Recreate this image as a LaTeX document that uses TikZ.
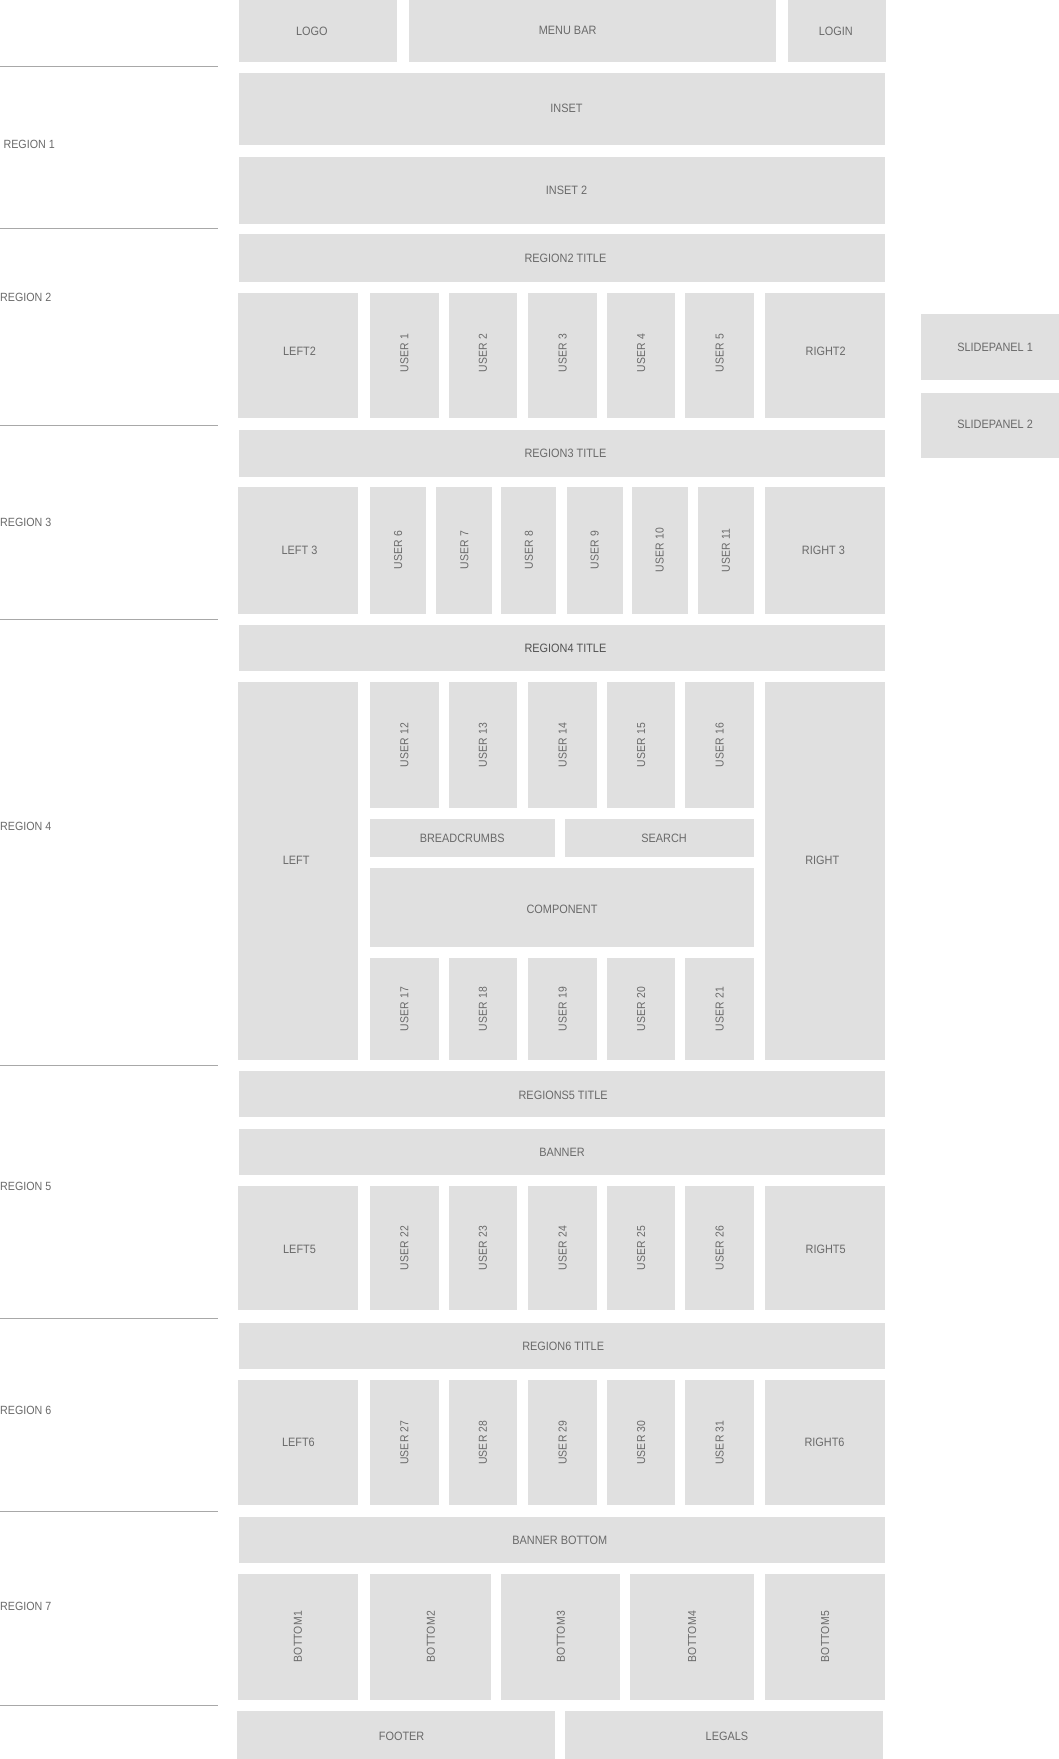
\documentclass[tikz,border=0pt]{standalone}
\usepackage{fontspec}
\usepackage{graphicx}
\setmainfont{Liberation Sans}
\newfontfamily\condf{Liberation Sans}[FakeStretch=0.9]
\definecolor{boxfill}{HTML}{E0E0E0}
\definecolor{txtc}{HTML}{6A6A6A}
\definecolor{rulec}{HTML}{A8A8A8}
\tikzset{
  box/.style={fill=boxfill, inner sep=0pt, text=txtc, font=\condf\fontsize{10.8}{12}\selectfont},
  lbl/.style={inner sep=0pt, text=txtc, font=\condf\fontsize{10.8}{12}\selectfont},
  rlabel/.style={anchor=west, inner sep=0pt, text=txtc, font=\condf\fontsize{10.6}{12}\selectfont},
  rline/.style={draw=rulec, line width=0.9pt}
}
% box with centred text
\newcommand\bx[6]{\node[box, minimum width={(#4-#2)*1pt}, minimum height={(#5-#3)*1pt}] (#1) at ({(#2+#4)/2},{(#3+#5)/2}) {#6};}
% box with text at a given point
\newcommand\bxl[8]{\bx{#1}{#2}{#3}{#4}{#5}{}\node[lbl] (#1-t) at (#6,#7) {#8};}
\newcommand\rbx[6]{\bx{#1}{#2}{#3}{#4}{#5}{\rotatebox{90}{\fontsize{10.3}{11}\selectfont\addfontfeatures{LetterSpace=2}#6}}}
\begin{document}
\begin{tikzpicture}[x=1pt,y=-1pt]
\useasboundingbox[fill=white] (0,0) rectangle (944,1568);
% region rules
\foreach \yy in {59,204,379,552,950,1175,1347,1520} {\draw[rline] (0,\yy) -- (194,\yy);}
\node[rlabel] (r1) at (3,129) {REGION 1};
\node[rlabel] (r2) at (0,265) {REGION 2};
\node[rlabel] (r3) at (0,466) {REGION 3};
\node[rlabel] (r4) at (0,737) {REGION 4};
\node[rlabel] (r5) at (0,1058) {REGION 5};
\node[rlabel] (r6) at (0,1257) {REGION 6};
\node[rlabel] (r7) at (0,1432) {REGION 7};
% header
\bxl{logo}{213}{-1}{354}{55}{278}{27.5}{LOGO}
\bxl{menu}{365}{-1}{692}{55}{506}{27.5}{MENU BAR}
\bxl{login}{702}{-1}{790}{55}{745}{27.5}{LOGIN}
\bxl{inset}{213}{65}{789}{129}{505}{96.5}{INSET}
\bxl{inset2}{213}{140}{789}{200}{505}{170}{INSET 2}
% region 2
\bxl{r2t}{213}{209}{789}{251}{504}{230.5}{REGION2 TITLE}
\bxl{left2}{212}{261}{319}{373}{267}{313.5}{LEFT2}
\rbx{u1}{330}{261}{391}{369}{USER 1}
\rbx{u2}{400}{261}{461}{369}{USER 2}
\rbx{u3}{471}{261}{532}{369}{USER 3}
\rbx{u4}{541}{261}{602}{369}{USER 4}
\rbx{u5}{611}{261}{672}{369}{USER 5}
\bx{u1b}{330}{368}{391}{373}{}
\bx{u2b}{400}{368}{461}{373}{}
\bx{u3b}{471}{368}{532}{373}{}
\bx{u4b}{541}{368}{602}{373}{}
\bx{u5b}{611}{368}{672}{373}{}
\bxl{right2}{682}{261}{789}{373}{736}{313.5}{RIGHT2}
\bxl{sp1}{821}{280}{953}{339}{887}{309.5}{SLIDEPANEL 1}
\bxl{sp2}{821}{350}{953}{408}{887}{378}{SLIDEPANEL 2}
% region 3
\bxl{r3t}{213}{383}{789}{425}{504}{404}{REGION3 TITLE}
\bxl{left3}{212}{434}{319}{547}{267}{491}{LEFT 3}
\rbx{u6}{330}{434}{380}{547}{USER 6}
\rbx{u7}{389}{434}{439}{547}{USER 7}
\rbx{u8}{447}{434}{496}{547}{USER 8}
\rbx{u9}{505}{434}{555}{547}{USER 9}
\rbx{u10}{563}{434}{613}{547}{USER 10}
\rbx{u11}{622}{434}{672}{547}{USER 11}
\bxl{right3}{682}{434}{789}{547}{734}{491}{RIGHT 3}
% region 4
\bxl{r4t}{213}{557}{789}{598}{504}{578}{\color{black!68}REGION4 TITLE}
\bxl{left4}{212}{608}{319}{945}{264}{766.5}{LEFT}
\bxl{right4}{682}{608}{789}{945}{733}{766.5}{RIGHT}
\rbx{u12}{330}{608}{391}{720}{USER 12}
\rbx{u13}{400}{608}{461}{720}{USER 13}
\rbx{u14}{471}{608}{532}{720}{USER 14}
\rbx{u15}{541}{608}{602}{720}{USER 15}
\rbx{u16}{611}{608}{672}{720}{USER 16}
\bxl{bread}{330}{730}{495}{764}{412}{747}{BREADCRUMBS}
\bxl{search}{504}{730}{672}{764}{592}{747}{SEARCH}
\bxl{comp}{330}{774}{672}{844}{501}{811}{COMPONENT}
\rbx{u17}{330}{854}{391}{945}{USER 17}
\rbx{u18}{400}{854}{461}{945}{USER 18}
\rbx{u19}{471}{854}{532}{945}{USER 19}
\rbx{u20}{541}{854}{602}{945}{USER 20}
\rbx{u21}{611}{854}{672}{945}{USER 21}
% region 5
\bxl{r5t}{213}{955}{789}{996}{502}{976}{REGIONS5 TITLE}
\bxl{banner}{213}{1006}{789}{1047}{501}{1027}{BANNER}
\bxl{left5}{212}{1057}{319}{1168}{267}{1113.5}{LEFT5}
\rbx{u22}{330}{1057}{391}{1168}{USER 22}
\rbx{u23}{400}{1057}{461}{1168}{USER 23}
\rbx{u24}{471}{1057}{532}{1168}{USER 24}
\rbx{u25}{541}{1057}{602}{1168}{USER 25}
\rbx{u26}{611}{1057}{672}{1168}{USER 26}
\bxl{right5}{682}{1057}{789}{1168}{736}{1113.5}{RIGHT5}
% region 6
\bxl{r6t}{213}{1179}{789}{1220}{502}{1200}{REGION6 TITLE}
\bxl{left6}{212}{1230}{319}{1342}{266}{1286}{LEFT6}
\rbx{u27}{330}{1230}{391}{1342}{USER 27}
\rbx{u28}{400}{1230}{461}{1342}{USER 28}
\rbx{u29}{471}{1230}{532}{1342}{USER 29}
\rbx{u30}{541}{1230}{602}{1342}{USER 30}
\rbx{u31}{611}{1230}{672}{1342}{USER 31}
\bxl{right6}{682}{1230}{789}{1342}{735}{1286}{RIGHT6}
% region 7
\bxl{bb}{213}{1352}{789}{1393}{499}{1373}{BANNER BOTTOM}
\rbx{b1}{212}{1403}{319}{1515}{BOTTOM1}
\rbx{b2}{330}{1403}{438}{1515}{BOTTOM2}
\rbx{b3}{447}{1403}{553}{1515}{BOTTOM3}
\rbx{b4}{562}{1403}{672}{1515}{BOTTOM4}
\rbx{b5}{682}{1403}{789}{1515}{BOTTOM5}
% footer
\bxl{footer}{211}{1525}{495}{1572}{358}{1547.5}{FOOTER}
\bxl{legals}{504}{1525}{787}{1572}{648}{1547.5}{LEGALS}
\end{tikzpicture}
\end{document}
